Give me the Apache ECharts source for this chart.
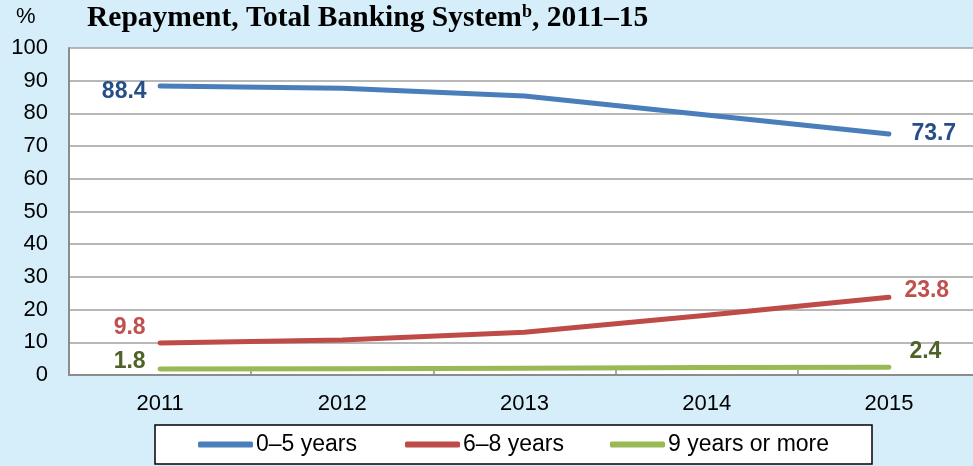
<!DOCTYPE html>
<html>
<head>
<meta charset="utf-8">
<script src="https://cdn.jsdelivr.net/npm/echarts@6/dist/echarts.min.js"></script>
<style>
html,body{margin:0;padding:0;background:#D5EEFA;}
#chart{width:973px;height:466px;}
</style>
</head>
<body>
<div id="chart"></div>
<script>
var years = ['2011', '2012', '2013', '2014', '2015'];
var seriesNames = ['0–5 years', '6–8 years', '9 years or more'];
var shortTerm = [88.4, 87.7, 85.3, 79.5, 73.7];
var midTerm = [9.8, 10.7, 13.1, 18.3, 23.8];
var longTerm = [1.8, 1.9, 2.1, 2.3, 2.4];
var yTicks = [0, 10, 20, 30, 40, 50, 60, 70, 80, 90, 100];

var lineColors = ['#4A7EBB', '#BE4B48', '#98B954'];
var labelColors = ['#264F87', '#C0504D', '#4F6228'];

function buildData(values, idx, firstLab, lastLab) {
  return values.map(function (v, i) {
    var item = { value: v };
    if (i === 0) item.label = Object.assign({ show: true }, firstLab);
    else if (i === values.length - 1) item.label = Object.assign({ show: true }, lastLab);
    return item;
  });
}

var labelBase = { fontSize: 23, fontWeight: 'bold', fontFamily: 'Liberation Sans, Arial, sans-serif' };

function mkSeries(name, values, idx, firstLab, lastLab) {
  return {
    name: name,
    type: 'line',
    data: buildData(values, idx, firstLab, lastLab),
    symbol: 'circle',
    symbolSize: 1,
    showSymbol: true,
    lineStyle: { color: lineColors[idx], width: 5, cap: 'round', join: 'round' },
    itemStyle: { color: lineColors[idx] },
    label: Object.assign({ show: false, color: labelColors[idx] }, labelBase),
    emphasis: { disabled: true },
    animation: false,
    z: 3 + idx
  };
}

var chart = echarts.init(document.getElementById('chart'), null, { renderer: 'canvas' });

var legendCommon = {
  orient: 'horizontal',
  itemWidth: 55,
  itemHeight: 6,
  itemGap: 0,
  padding: 0,
  icon: 'roundRect',
  top: 433,
  textStyle: { fontSize: 23, color: '#000', fontFamily: 'Liberation Sans, Arial, sans-serif', padding: [0, 0, 0, -2] },
  selectedMode: false
};

var option = {
  backgroundColor: '#D5EEFA',
  animation: false,
  title: [
    {
      text: '%', left: 16, top: 6, padding: 0,
      textStyle: { fontSize: 22, fontWeight: 'normal', color: '#000', fontFamily: 'Liberation Sans, Arial, sans-serif' }
    },
    {
      text: 'Repayment, Total Banking System{sup|b}, 2011–15', left: 87, top: 3, padding: 0,
      textStyle: {
        fontSize: 29.5, fontWeight: 'bold', color: '#000', fontFamily: 'Liberation Serif, Times New Roman, serif',
        rich: {
          sup: { fontSize: 18, fontWeight: 'bold', color: '#000', fontFamily: 'Liberation Serif, Times New Roman, serif', verticalAlign: 'top', padding: [0, 0, 11, 0] }
        }
      }
    }
  ],
  grid: {
    left: 69, top: 48, width: 911, bottom: 91,
    outerBoundsMode: 'none',
    show: true, backgroundColor: '#FFFFFF', borderWidth: 0,
    containLabel: false
  },
  xAxis: {
    type: 'category',
    data: years,
    boundaryGap: true,
    axisLine: { show: true, lineStyle: { color: '#8C8C8C', width: 2 } },
    axisTick: { show: true, inside: true, length: 5, lineStyle: { color: '#8C8C8C', width: 1.5 } },
    axisLabel: { fontSize: 22, color: '#000', margin: 18, fontFamily: 'Liberation Sans, Arial, sans-serif' },
    splitLine: { show: false }
  },
  yAxis: {
    type: 'value',
    min: yTicks[0],
    max: yTicks[yTicks.length - 1],
    interval: 10,
    axisLine: { show: true, lineStyle: { color: '#8C8C8C', width: 2 } },
    axisTick: { show: false },
    axisLabel: { fontSize: 22, color: '#000', margin: 21, fontFamily: 'Liberation Sans, Arial, sans-serif' },
    splitLine: { show: true, lineStyle: { color: '#A0A0A0', width: 1.5 } }
  },
  legend: [
    Object.assign({}, legendCommon, { left: 198, data: [seriesNames[0]] }),
    Object.assign({}, legendCommon, { left: 405, data: [seriesNames[1]] }),
    Object.assign({}, legendCommon, { left: 610, data: [seriesNames[2]] })
  ],
  graphic: [
    {
      type: 'rect', z: -1, silent: true,
      shape: { x: 155, y: 425, width: 717, height: 39 },
      style: { fill: '#FFFFFF', stroke: '#000000', lineWidth: 1.5 }
    }
  ],
  series: [
    mkSeries(seriesNames[0], shortTerm, 0,
      { position: 'left', distance: 13, offset: [0, 6] },
      { position: 'right', distance: 22, offset: [0, 0] }),
    mkSeries(seriesNames[1], midTerm, 1,
      { position: 'left', distance: 14, offset: [0, -15] },
      { position: 'right', distance: 15, offset: [0, -7] }),
    mkSeries(seriesNames[2], longTerm, 2,
      { position: 'left', distance: 14, offset: [0, -7] },
      { position: 'right', distance: 20, offset: [0, -15] })
  ]
};

chart.setOption(option);
</script>
</body>
</html>
